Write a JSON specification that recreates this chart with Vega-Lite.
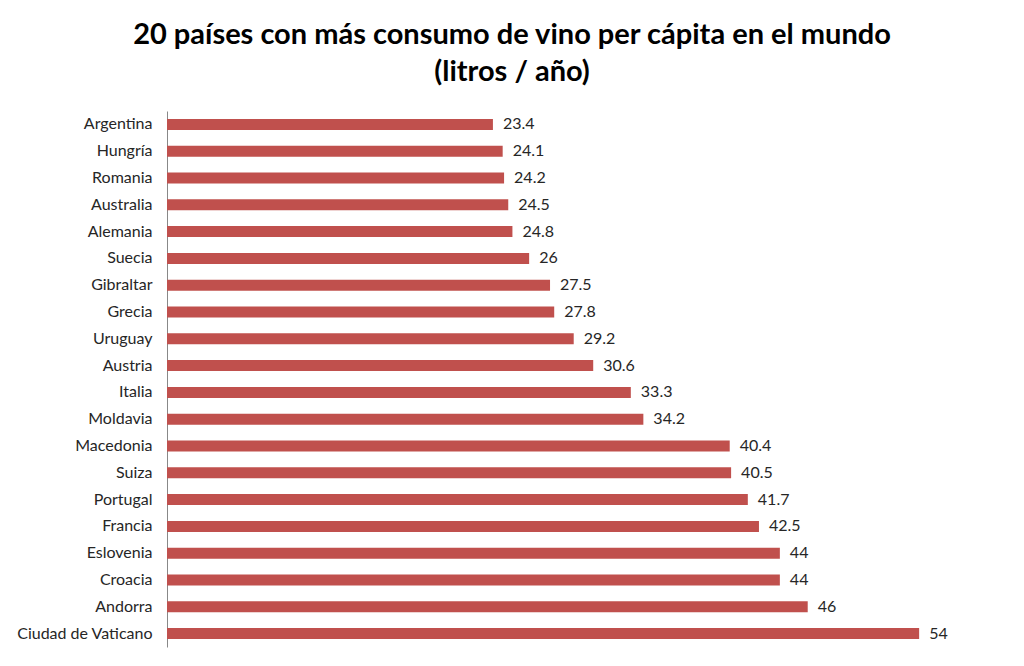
{
  "$schema": "https://vega.github.io/schema/vega-lite/v6.json",
  "autosize": "none",
  "width": 780,
  "height": 536,
  "padding": {"left": 167, "top": 111, "right": 77, "bottom": 19},
  "background": "white",
  "title": {
    "text": ["20 países con más consumo de vino per cápita en el mundo", "(litros / año)"],
    "font": "Lato",
    "fontSize": 29,
    "fontWeight": "bold",
    "color": "#000000",
    "lineHeight": 37,
    "anchor": "middle",
    "dx": -45,
    "offset": 24
  },
  "data": {
    "values": [
      {"pais": "Argentina", "litros": 23.4},
      {"pais": "Hungría", "litros": 24.1},
      {"pais": "Romania", "litros": 24.2},
      {"pais": "Australia", "litros": 24.5},
      {"pais": "Alemania", "litros": 24.8},
      {"pais": "Suecia", "litros": 26},
      {"pais": "Gibraltar", "litros": 27.5},
      {"pais": "Grecia", "litros": 27.8},
      {"pais": "Uruguay", "litros": 29.2},
      {"pais": "Austria", "litros": 30.6},
      {"pais": "Italia", "litros": 33.3},
      {"pais": "Moldavia", "litros": 34.2},
      {"pais": "Macedonia", "litros": 40.4},
      {"pais": "Suiza", "litros": 40.5},
      {"pais": "Portugal", "litros": 41.7},
      {"pais": "Francia", "litros": 42.5},
      {"pais": "Eslovenia", "litros": 44},
      {"pais": "Croacia", "litros": 44},
      {"pais": "Andorra", "litros": 46},
      {"pais": "Ciudad de Vaticano", "litros": 54}
    ]
  },
  "encoding": {
    "y": {
      "field": "pais",
      "type": "nominal",
      "sort": null,
      "title": null,
      "axis": {
        "ticks": false,
        "domainColor": "#888888",
        "labelFont": "Lato",
        "labelFontSize": 16,
        "labelColor": "#262626",
        "labelPadding": 15
      }
    },
    "x": {
      "field": "litros",
      "type": "quantitative",
      "scale": {"domain": [0, 56], "nice": false},
      "axis": null
    }
  },
  "layer": [
    {
      "mark": {"type": "bar", "color": "#c0504d", "height": 11}
    },
    {
      "mark": {"type": "text", "align": "left", "dx": 10, "font": "Lato", "fontSize": 16, "color": "#262626"},
      "encoding": {"text": {"field": "litros", "type": "quantitative"}}
    }
  ],
  "config": {"view": {"stroke": null}}
}
